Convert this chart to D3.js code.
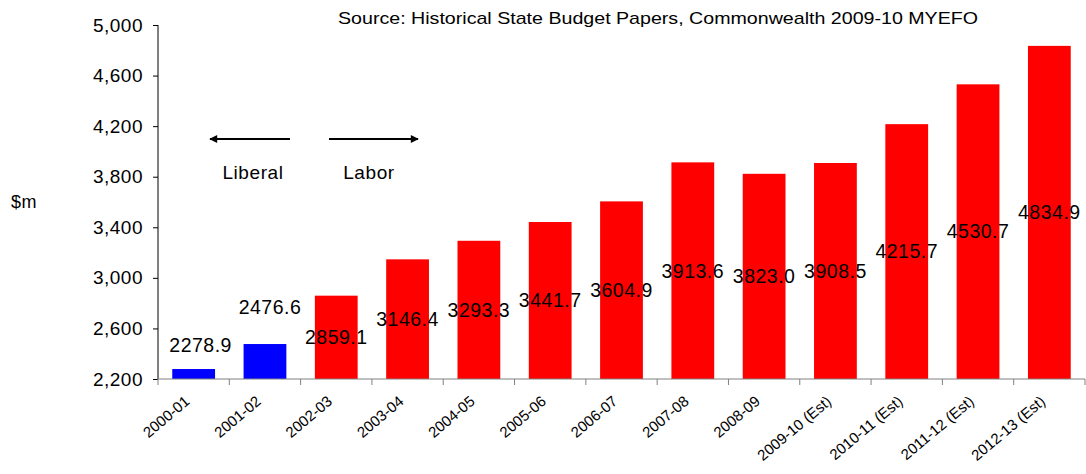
<!DOCTYPE html>
<html><head><meta charset="utf-8">
<script src="https://cdn.jsdelivr.net/npm/d3@7"></script>
<style>
html,body{margin:0;padding:0;background:#fff;}
svg text{font-family:"Liberation Sans",Arial,sans-serif;fill:#000;}
</style></head>
<body>
<svg id="chart" width="1086" height="474"></svg>
<script>
const categories = ["2000-01","2001-02","2002-03","2003-04","2004-05","2005-06","2006-07","2007-08","2008-09","2009-10 (Est)","2010-11 (Est)","2011-12 (Est)","2012-13 (Est)"];
const values = [2278.9,2476.6,2859.1,3146.4,3293.3,3441.7,3604.9,3913.6,3823.0,3908.5,4215.7,4530.7,4834.9];
const government = ["Liberal","Liberal","Labor","Labor","Labor","Labor","Labor","Labor","Labor","Labor","Labor","Labor","Labor"];
const yTicks = [2200,2600,3000,3400,3800,4200,4600,5000];
const title = "Source: Historical State Budget Papers, Commonwealth 2009-10 MYEFO";
const yTitle = "$m";

(function(){
const svg = d3.select("#chart");
const pL = 158, pR = 1085, pT = 25, pB = 379;
const color = {Liberal:"#0000FF", Labor:"#FF0000"};

const x = d3.scaleBand().domain(categories).range([pL,pR]).paddingInner(0.4).paddingOuter(0.2);
const y = d3.scaleLinear().domain([2200,5000]).range([pB,pT]);

// bars
svg.selectAll("rect.bar").data(values).join("rect")
  .attr("class","bar")
  .attr("x",(d,i)=>x(categories[i]))
  .attr("width",x.bandwidth())
  .attr("y",d=>y(d))
  .attr("height",d=>y(2200)-y(d))
  .attr("fill",(d,i)=>color[government[i]]);

// y axis
const yAxis = d3.axisLeft(y).tickValues(yTicks).tickFormat(d3.format(",")).tickSize(5).tickPadding(10);
const ga = svg.append("g").attr("transform",`translate(${pL},0)`).call(yAxis);
ga.select(".domain").attr("stroke","#000").attr("d",`M0,${pT}V${pB}`);
ga.selectAll(".tick line").attr("stroke","#000");
ga.selectAll(".tick text").attr("font-size","19px").attr("letter-spacing","0.5px")
  .attr("font-family","Liberation Sans, Arial, sans-serif").attr("fill","#000");

// x axis line and ticks at category boundaries
const step = x.step();
const bounds = categories.map(c=>x(c)-step*0.2).concat([x(categories[categories.length-1])+x.bandwidth()+step*0.2]);
svg.append("line").attr("x1",pL).attr("x2",pR).attr("y1",pB).attr("y2",pB).attr("stroke","#808080");
svg.selectAll("line.xt").data(bounds).join("line").attr("class","xt")
  .attr("x1",d=>d).attr("x2",d=>d).attr("y1",pB).attr("y2",pB+6).attr("stroke","#808080");

// x labels
svg.selectAll("text.xl").data(categories).join("text").attr("class","xl")
  .attr("transform",d=>`translate(${x(d)+x.bandwidth()/2-3},${pB+24}) rotate(-40)`)
  .attr("text-anchor","end").attr("font-size","15px").text(d=>d);

// value labels: centred in bar, blue ones sit above their bars
svg.selectAll("text.vl").data(values).join("text").attr("class","vl")
  .attr("x",(d,i)=>x(categories[i])+x.bandwidth()/2 + (i===0?7:(i===1?5:0)))
  .attr("y",(d,i)=>{
     if(i===0) return y(d)-24;
     if(i===1) return y(d)-37;
     return (y(d)+y(2200))/2;
  })
  .attr("dy","0.35em").attr("text-anchor","middle").attr("font-size","19.5px").attr("letter-spacing","0.5px")
  .text(d=>d.toFixed(1));

// title
svg.append("text").attr("x",338).attr("y",24).attr("font-size","17px")
  .attr("textLength",640).attr("lengthAdjust","spacingAndGlyphs").text(title);
// y title
svg.append("text").attr("x",24).attr("y",208).attr("text-anchor","middle").attr("font-size","18px").attr("letter-spacing","0.5px").text(yTitle);

// government arrows
const defs = svg.append("defs");
defs.append("marker").attr("id","ah").attr("viewBox","0 0 10 10").attr("refX",9).attr("refY",5)
  .attr("markerWidth",4.5).attr("markerHeight",4).attr("orient","auto")
  .append("path").attr("d","M0,0L10,5L0,10Z").attr("fill","#000");
svg.append("line").attr("x1",290).attr("x2",210).attr("y1",139).attr("y2",139).attr("stroke","#000").attr("stroke-width",2).attr("marker-end","url(#ah)");
svg.append("line").attr("x1",329).attr("x2",418).attr("y1",139).attr("y2",139).attr("stroke","#000").attr("stroke-width",2).attr("marker-end","url(#ah)");
svg.append("text").attr("x",253).attr("y",179).attr("text-anchor","middle").attr("font-size","19px").attr("letter-spacing","0.6px").text("Liberal");
svg.append("text").attr("x",369).attr("y",179).attr("text-anchor","middle").attr("font-size","19px").attr("letter-spacing","0.6px").text("Labor");
})();
</script>
</body></html>
